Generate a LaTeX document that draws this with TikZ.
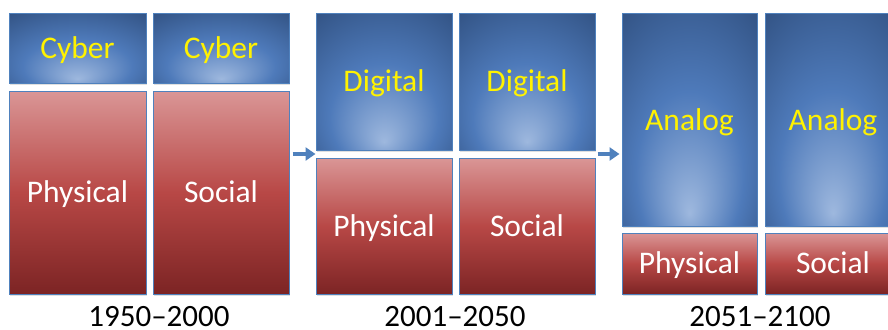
\documentclass[tikz,border=0pt]{standalone}
\usepackage{fontspec}
\setmainfont{Carlito}
\usetikzlibrary{arrows.meta,shadows}
% Farben
\definecolor{bluelite}{RGB}{158,184,222}
\definecolor{bluemid}{RGB}{78,122,186}
\definecolor{bluedark}{RGB}{44,74,120}
\definecolor{redtop}{RGB}{218,150,150}
\definecolor{redmid}{RGB}{184,72,70}
\definecolor{reddark}{RGB}{124,36,36}
\definecolor{rimblue}{RGB}{79,129,189}
% Verlaeufe
\pgfdeclareradialshading{bluespot}{\pgfpoint{0bp}{-22bp}}{color(0bp)=(bluelite); color(20bp)=(bluemid); color(44bp)=(bluedark); color(50bp)=(bluedark)}
\pgfdeclareverticalshading{redfade}{100bp}{color(0bp)=(reddark); color(25bp)=(reddark); color(50bp)=(redmid); color(75bp)=(redtop); color(100bp)=(redtop)}
\tikzset{
  box/.style={draw=rimblue, line width=1pt, inner sep=0pt, text height=20, text depth=0,
    font=\fontsize{31.5}{33}\selectfont,
    drop shadow={opacity=0.25, shadow xshift=1pt, shadow yshift=-1.5pt}},
  cyberbox/.style={box, shading=bluespot, text=yellow},
  realbox/.style={box, shading=redfade, text=white},
  flow/.style={draw=rimblue, line width=4pt, -{Triangle[length=10pt,width=13pt]}},
  year/.style={font=\fontsize{31}{33}\selectfont, inner sep=0pt}
}
\begin{document}
\begin{tikzpicture}[x=1pt,y=-1pt]
  \useasboundingbox (0,0) rectangle (888,329);
  \clip (0,0) rectangle (888,329);
  % 1950--2000
  \node[cyberbox, minimum width=137, minimum height=69] (cybA) at (77.5,48.5) {Cyber};
  \node[cyberbox, minimum width=136, minimum height=69] (cybB) at (221,48.5) {Cyber};
  \node[realbox, minimum width=137, minimum height=203] (phyA) at (77.5,192.5) {Physical};
  \node[realbox, minimum width=136, minimum height=203] (socA) at (221,192.5) {Social};
  \node[year] (yearA) at (159,316.5) {1950–2000};
  % 2001--2050
  \node[cyberbox, minimum width=136, minimum height=136] (digA) at (384,82) {Digital};
  \node[cyberbox, minimum width=136, minimum height=136] (digB) at (527,82) {Digital};
  \node[realbox, minimum width=136, minimum height=136] (phyB) at (384,226) {Physical};
  \node[realbox, minimum width=136, minimum height=136] (socB) at (527,226) {Social};
  \node[year] (yearB) at (455,316.5) {2001–2050};
  % 2051--2100
  \node[cyberbox, minimum width=135, minimum height=212] (anaA) at (689.5,120) {Analog};
  \node[cyberbox, minimum width=136, minimum height=212] (anaB) at (833,120) {Analog};
  \node[realbox, minimum width=135, minimum height=61] (phyC) at (689.5,263.5) {Physical};
  \node[realbox, minimum width=136, minimum height=61] (socC) at (833,263.5) {Social};
  \node[year] (yearC) at (760,316.5) {2051–2100};
  % Pfeile
  \coordinate (gap) at (0,154);
  \draw[flow, shorten <=3pt] (socA.east |- gap) -- (phyB.west |- gap);
  \draw[flow, shorten <=2pt, shorten >=2pt] (socB.east |- gap) -- (anaA.west |- gap);
\end{tikzpicture}
\end{document}
